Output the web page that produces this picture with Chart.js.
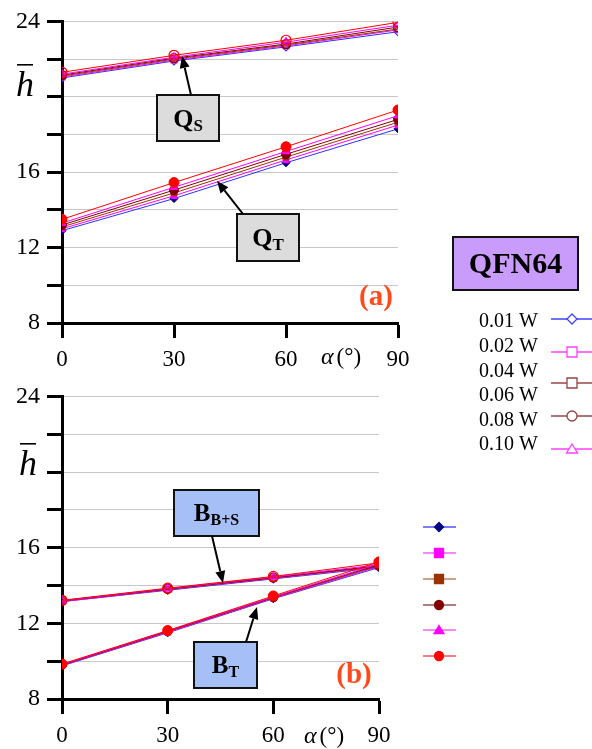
<!DOCTYPE html>
<html><head><meta charset="utf-8">
<script src="https://cdn.jsdelivr.net/npm/chart.js@4"></script>
<style>
html,body{margin:0;padding:0;background:#fff;}
body{width:592px;height:749px;position:relative;overflow:hidden;}
.wrap{position:absolute;left:0;width:592px;}
#wa{top:0;height:375px;}
#wb{top:375px;height:374px;}
</style></head><body>
<div class="wrap" id="wa"><canvas id="ca"></canvas></div>
<div class="wrap" id="wb"><canvas id="cb"></canvas></div>
<script>
// ---------- data ----------
const angles = [0, 30, 60, 90];
const powers = ['0.01 W', '0.02 W', '0.04 W', '0.06 W', '0.08 W', '0.10 W'];
const yTickLabels = [8, 12, 16, 24];

// (a) Q_S  (open markers)
const qS = [
  [21.00, 21.90, 22.65, 23.45],
  [21.05, 21.95, 22.70, 23.55],
  [21.10, 22.00, 22.75, 23.60],
  [21.15, 22.05, 22.80, 23.70],
  [21.20, 22.10, 22.90, 23.80],
  [21.30, 22.20, 23.00, 23.95]
];
// (a) Q_T  (filled markers)
const qT = [
  [12.90, 14.60, 16.50, 18.30],
  [13.00, 14.75, 16.65, 18.50],
  [13.10, 14.90, 16.80, 18.65],
  [13.20, 15.05, 16.95, 18.80],
  [13.30, 15.20, 17.10, 19.00],
  [13.50, 15.45, 17.35, 19.30]
];
// (b) B_B+S (open markers)
const bBS = [
  [13.15, 13.75, 14.35, 14.95],
  [13.15, 13.78, 14.38, 15.00],
  [13.18, 13.80, 14.40, 15.02],
  [13.20, 13.82, 14.42, 15.05],
  [13.20, 13.84, 14.45, 15.10],
  [13.22, 13.86, 14.48, 15.20]
];
// (b) B_T (filled markers)
const bT = [
  [9.75, 11.50, 13.30, 14.95],
  [9.78, 11.53, 13.33, 15.00],
  [9.80, 11.56, 13.36, 15.05],
  [9.80, 11.58, 13.38, 15.10],
  [9.82, 11.60, 13.40, 15.15],
  [9.85, 11.62, 13.45, 15.25]
];

// ---------- styles ----------
const lineColors = ['#3030ff', '#ff00ff', '#993300', '#800000', '#ff00ff', '#ff0000'];
const filledColors = ['#000080', '#ff00ff', '#993300', '#800000', '#ff00ff', '#ff0000'];
const markerStyles = ['rectRot', 'rect', 'rect', 'circle', 'triangle', 'circle'];
const markerRadius = [4, 4, 4, 4.5, 4.5, 5];
const SERIF = "'Liberation Serif', 'Times New Roman', serif";

function makeDatasets(openVals, filledVals) {
  const ds = [];
  for (let i = 0; i < powers.length; i++) {
    ds.push({
      label: powers[i] + ' open',
      data: angles.map((a, j) => ({x: a, y: openVals[i][j]})),
      borderColor: lineColors[i], borderWidth: 1,
      pointStyle: markerStyles[i], pointRadius: markerRadius[i],
      pointBorderColor: lineColors[i], pointBackgroundColor: 'rgba(0,0,0,0)',
      pointBorderWidth: 1.2, order: 20 - i, tension: 0
    });
    ds.push({
      label: powers[i] + ' filled',
      data: angles.map((a, j) => ({x: a, y: filledVals[i][j]})),
      borderColor: lineColors[i], borderWidth: 1,
      pointStyle: markerStyles[i], pointRadius: markerRadius[i],
      pointBorderColor: filledColors[i], pointBackgroundColor: filledColors[i],
      pointBorderWidth: 1, order: 20 - i, tension: 0
    });
  }
  return ds;
}

// ---------- drawing helpers ----------
function drawArrow(ctx, x1, y1, x2, y2) {
  const ang = Math.atan2(y2 - y1, x2 - x1);
  const L = 12, W = 5;
  const bx = x2 - L * Math.cos(ang), by = y2 - L * Math.sin(ang);
  ctx.save();
  ctx.strokeStyle = '#000'; ctx.fillStyle = '#000'; ctx.lineWidth = 2;
  ctx.beginPath(); ctx.moveTo(x1, y1); ctx.lineTo(bx, by); ctx.stroke();
  ctx.beginPath();
  ctx.moveTo(x2, y2);
  ctx.lineTo(bx + W * Math.sin(ang), by - W * Math.cos(ang));
  ctx.lineTo(bx - W * Math.sin(ang), by + W * Math.cos(ang));
  ctx.closePath(); ctx.fill();
  ctx.restore();
}
function drawBox(ctx, b) {
  ctx.save();
  ctx.fillStyle = b.fill; ctx.strokeStyle = '#111'; ctx.lineWidth = 2;
  ctx.fillRect(b.x, b.y, b.w, b.h); ctx.strokeRect(b.x, b.y, b.w, b.h);
  ctx.fillStyle = '#000'; ctx.textBaseline = 'alphabetic';
  ctx.font = 'bold ' + b.fs + 'px ' + SERIF;
  const wMain = ctx.measureText(b.main).width;
  ctx.font = 'bold ' + b.sfs + 'px ' + SERIF;
  const wSub = ctx.measureText(b.sub).width;
  const x0 = b.x + (b.w - wMain - wSub) / 2;
  const base = b.y + b.h / 2 + b.fs * 0.33;
  ctx.font = 'bold ' + b.fs + 'px ' + SERIF;
  ctx.fillText(b.main, x0, base);
  ctx.font = 'bold ' + b.sfs + 'px ' + SERIF;
  ctx.fillText(b.sub, x0 + wMain, base + b.sfs * 0.25);
  ctx.restore();
  if (b.arrow) drawArrow(ctx, b.arrow[0], b.arrow[1], b.arrow[2], b.arrow[3]);
}
function drawMarker(ctx, style, x, y, r, stroke, fill) {
  ctx.save();
  ctx.strokeStyle = stroke; ctx.lineWidth = 1.3;
  ctx.fillStyle = fill;
  ctx.beginPath();
  if (style === 'rectRot') {
    ctx.moveTo(x, y - r); ctx.lineTo(x + r, y); ctx.lineTo(x, y + r); ctx.lineTo(x - r, y); ctx.closePath();
  } else if (style === 'rect') {
    ctx.rect(x - r, y - r, 2 * r, 2 * r);
  } else if (style === 'circle') {
    ctx.arc(x, y, r, 0, Math.PI * 2);
  } else if (style === 'triangle') {
    ctx.moveTo(x, y - r); ctx.lineTo(x + r * 1.1, y + r * 0.8); ctx.lineTo(x - r * 1.1, y + r * 0.8); ctx.closePath();
  }
  if (fill) ctx.fill();
  ctx.stroke();
  ctx.restore();
}
function drawHbar(ctx, x, yBar, yBase) {
  ctx.save();
  ctx.fillStyle = '#000';
  ctx.font = 'italic 36px ' + SERIF;
  ctx.textBaseline = 'alphabetic';
  ctx.fillText('h', x, yBase);
  ctx.fillRect(x + 1, yBar, 16, 1.6);
  ctx.restore();
}
function drawAlpha(ctx, x, yMid) {
  ctx.save();
  ctx.fillStyle = '#000'; ctx.textBaseline = 'middle';
  ctx.font = 'italic 24px ' + SERIF;
  ctx.fillText('\u03b1', x, yMid);
  const w = ctx.measureText('\u03b1').width;
  ctx.font = '23px ' + SERIF;
  ctx.fillText('(\u00b0)', x + w + 3, yMid);
  ctx.restore();
}
function drawPanelLabel(ctx, text, cx, cy) {
  ctx.save();
  ctx.fillStyle = '#ff4a1c';
  ctx.font = 'bold 29px ' + SERIF;
  ctx.textAlign = 'center'; ctx.textBaseline = 'middle';
  ctx.fillText(text, cx, cy);
  ctx.restore();
}
// legend of panel (a), in page coordinates; dy = canvas top offset
function drawLegendA(ctx, dy) {
  ctx.save();
  ctx.translate(0, -dy);
  ctx.fillStyle = '#c99cfb'; ctx.strokeStyle = '#111'; ctx.lineWidth = 2;
  ctx.fillRect(453, 237, 125, 53); ctx.strokeRect(453, 237, 125, 53);
  ctx.fillStyle = '#000'; ctx.font = 'bold 30px ' + SERIF;
  ctx.textAlign = 'center'; ctx.textBaseline = 'middle';
  ctx.fillText('QFN64', 515.5, 265);
  ctx.font = '20px ' + SERIF; ctx.textAlign = 'right';
  const rowY = [322, 347, 372, 396, 421, 445];
  powers.forEach((p, i) => ctx.fillText(p, 538, rowY[i]));
  const legA = [
    {y: 319, c: '#4040ff', s: 'rectRot'},
    {y: 352, c: '#ff40ff', s: 'rect'},
    {y: 383, c: '#994444', s: 'rect'},
    {y: 416, c: '#994444', s: 'circle'},
    {y: 449, c: '#ff40ff', s: 'triangle'}
  ];
  legA.forEach(m => {
    ctx.save(); ctx.strokeStyle = m.c; ctx.lineWidth = 1.3;
    ctx.beginPath(); ctx.moveTo(551, m.y); ctx.lineTo(592, m.y); ctx.stroke(); ctx.restore();
    drawMarker(ctx, m.s, 572, m.y, 5, m.c, '#fff');
  });
  ctx.restore();
}

function makeOptions(padRight, xAxisHeight) {
  return {
    responsive: true, maintainAspectRatio: false, animation: false, devicePixelRatio: 1,
    layout: {padding: {left: 0, top: 17, right: padRight, bottom: 0}},
    plugins: {legend: {display: false}, tooltip: {enabled: false}},
    scales: {
      x: {
        type: 'linear', min: 0, max: 90,
        afterFit: s => { s.height = xAxisHeight; },
        ticks: {stepSize: 30, color: '#000', padding: 8, font: {family: SERIF, size: 23}},
        grid: {drawOnChartArea: false, drawTicks: true, tickLength: 15, tickColor: '#000', tickWidth: 3},
        border: {color: '#000', width: 3}
      },
      y: {
        min: 8, max: 24,
        afterFit: s => { s.width = 62; },
        ticks: {stepSize: 2, color: '#000', padding: 7, font: {family: SERIF, size: 24},
          callback: v => yTickLabels.includes(v) ? String(v) : ''},
        grid: {color: '#c8c8c8', lineWidth: 1, drawTicks: true, tickLength: 15, tickColor: '#000', tickWidth: 3},
        border: {color: '#000', width: 3}
      }
    }
  };
}

// ---------- chart (a) ----------
const decoA = {
  id: 'decoA',
  afterDraw(chart) {
    const ctx = chart.ctx;
    drawBox(ctx, {x: 157, y: 95, w: 62, h: 46, fill: '#dcdcdc', main: 'Q', sub: 'S', fs: 26, sfs: 17, arrow: [191, 95, 182, 56]});
    drawBox(ctx, {x: 237, y: 214, w: 62, h: 47, fill: '#dcdcdc', main: 'Q', sub: 'T', fs: 26, sfs: 17, arrow: [243, 214, 217, 181]});
    drawPanelLabel(ctx, '(a)', 376, 298);
    drawHbar(ctx, 16, 64, 96);
    drawAlpha(ctx, 321, 358);
    drawLegendA(ctx, 0);
  }
};
new Chart(document.getElementById('ca'), {
  type: 'line',
  data: {datasets: makeDatasets(qS, qT)},
  options: makeOptions(592 - 398, 375 - 323),
  plugins: [decoA]
});

// ---------- chart (b) ----------
const decoB = {
  id: 'decoB',
  afterDraw(chart) {
    const ctx = chart.ctx;
    drawBox(ctx, {x: 174, y: 115, w: 85, h: 46, fill: '#a6bff7', main: 'B', sub: 'B+S', fs: 25, sfs: 16, arrow: [212, 161, 223, 208]});
    drawBox(ctx, {x: 194, y: 267, w: 63, h: 46, fill: '#a6bff7', main: 'B', sub: 'T', fs: 25, sfs: 16, arrow: [246, 267, 257, 232]});
    drawPanelLabel(ctx, '(b)', 354, 301);
    drawHbar(ctx, 19, 68, 100);
    drawAlpha(ctx, 304, 362);
    drawLegendA(ctx, 375);
    const legB = [
      {y: 152, line: '#5050ff', fill: '#000080', s: 'rectRot'},
      {y: 178, line: '#ff60ff', fill: '#ff00ff', s: 'rect'},
      {y: 204, line: '#c08060', fill: '#993300', s: 'rect'},
      {y: 230, line: '#a05050', fill: '#800000', s: 'circle'},
      {y: 255, line: '#ff60ff', fill: '#ff00ff', s: 'triangle'},
      {y: 281, line: '#ff5050', fill: '#ff0000', s: 'circle'}
    ];
    legB.forEach(m => {
      ctx.save(); ctx.strokeStyle = m.line; ctx.lineWidth = 1.3;
      ctx.beginPath(); ctx.moveTo(423, m.y); ctx.lineTo(456, m.y); ctx.stroke(); ctx.restore();
      drawMarker(ctx, m.s, 439, m.y, 4.5, m.fill, m.fill);
    });
  }
};
new Chart(document.getElementById('cb'), {
  type: 'line',
  data: {datasets: makeDatasets(bBS, bT)},
  options: makeOptions(592 - 379, 374 - 324),
  plugins: [decoB]
});
</script>
</body></html>
